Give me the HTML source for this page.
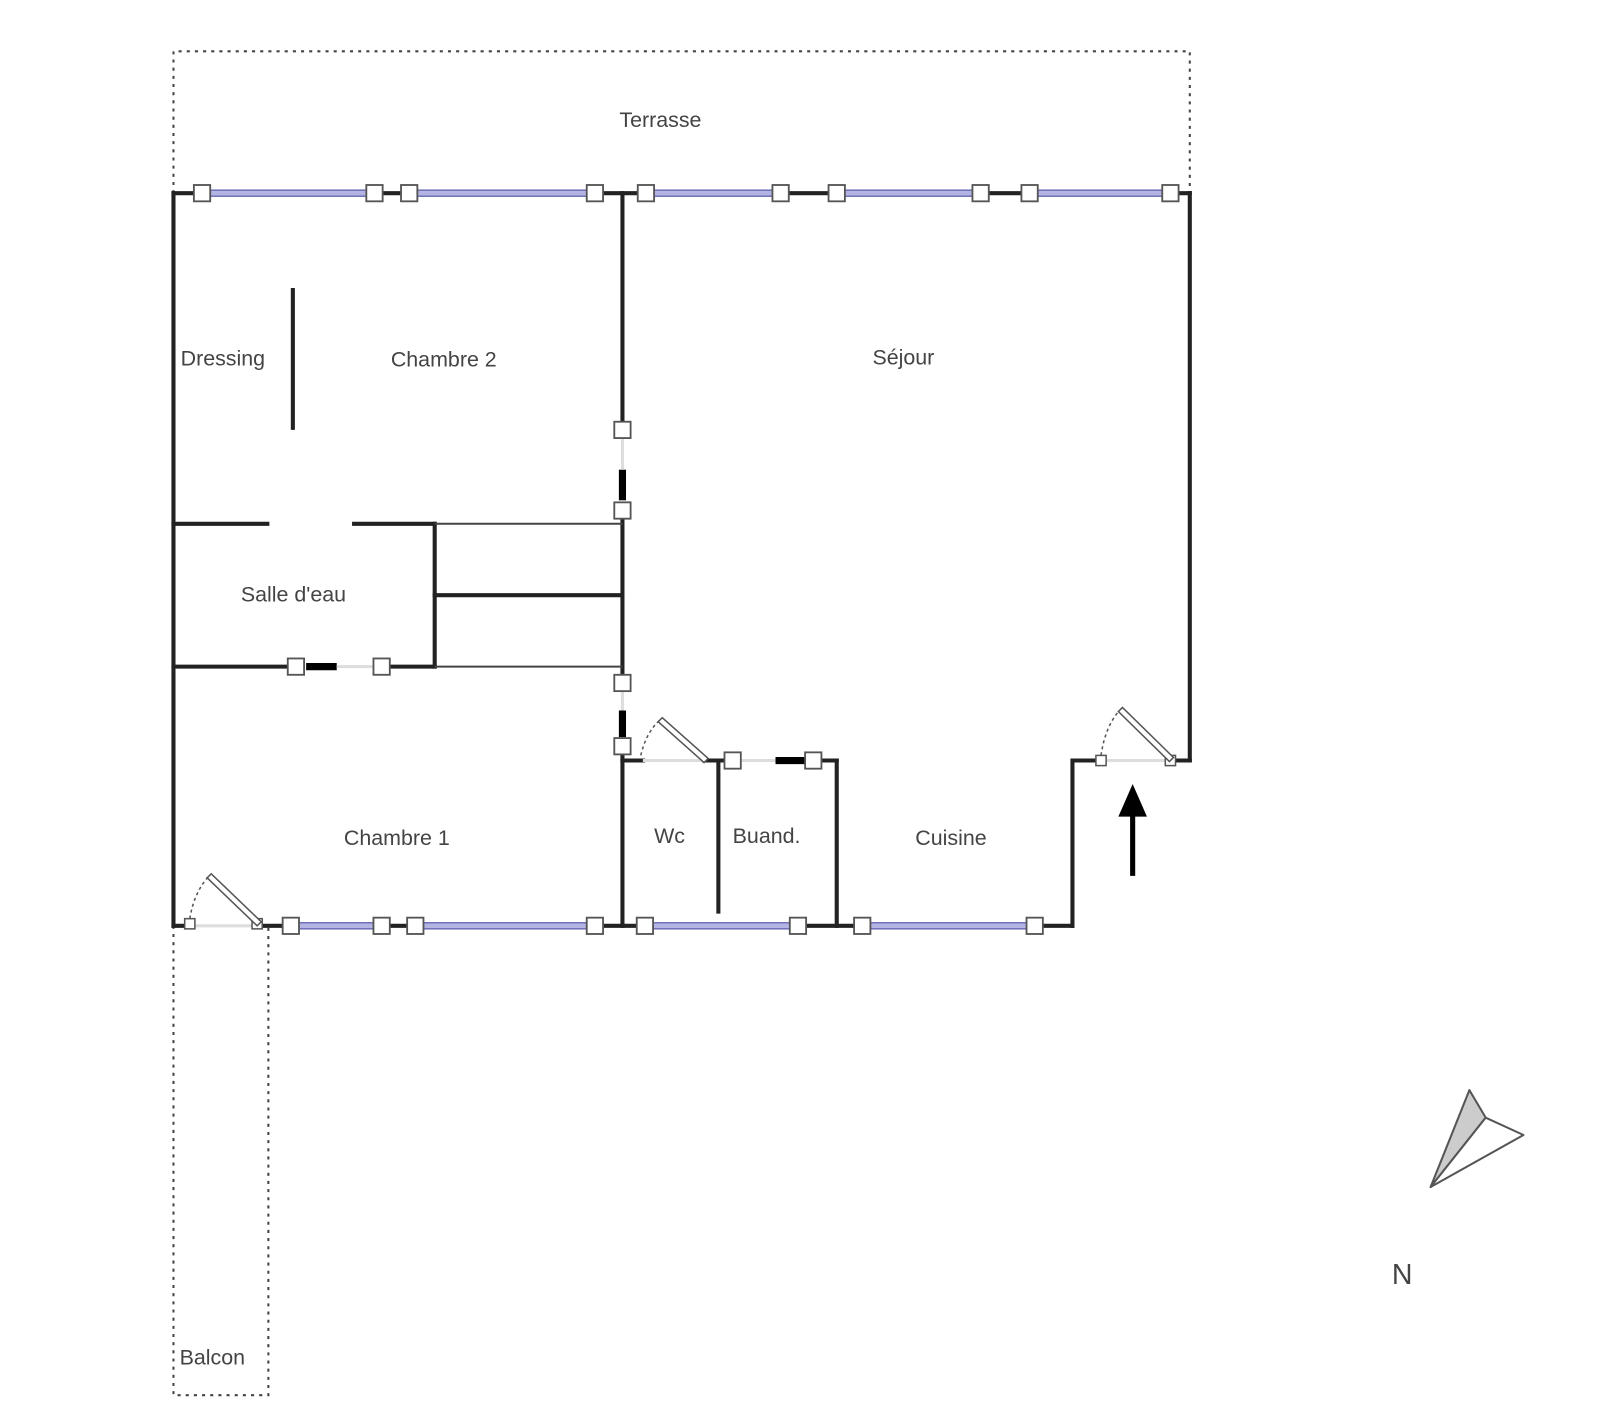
<!DOCTYPE html>
<html><head><meta charset="utf-8"><style>
html,body{margin:0;padding:0;background:#fff;width:1600px;height:1420px;overflow:hidden}
text{font-family:"Liberation Sans","DejaVu Sans",sans-serif;fill:#444;font-size:21px}
</style></head><body>
<svg width="1600" height="1420" viewBox="0 0 1568 1391" xmlns="http://www.w3.org/2000/svg">
<defs>
<g id="sq"><rect x="-8" y="-8" width="16" height="16" fill="#fff" stroke="#555" stroke-width="1.8"/></g>
<g id="ss"><rect x="-5" y="-5" width="10" height="10" fill="#fff" stroke="#555" stroke-width="1.5"/></g>
</defs>
<g fill="none" stroke="#444" stroke-width="2" stroke-dasharray="3,5">
<polyline points="170,189 170,50 1166,50 1166,189"/>
<polyline points="170,907 170,1367 263,1367 263,907"/>
</g>
<g stroke="#222" stroke-width="4" fill="none" stroke-linecap="square">
<line x1="170" y1="189" x2="1166" y2="189"/>
<line x1="170" y1="189" x2="170" y2="907"/>
<line x1="1166" y1="189" x2="1166" y2="745"/>
<line x1="1147" y1="745" x2="1166" y2="745"/>
<polyline points="1079,745 1051,745 1051,907"/>
<line x1="252" y1="907" x2="1051" y2="907"/>
<line x1="170" y1="907" x2="186" y2="907"/>
<line x1="610" y1="189" x2="610" y2="421"/>
<line x1="610" y1="500" x2="610" y2="669"/>
<line x1="610" y1="731" x2="610" y2="907"/>
<line x1="287" y1="284" x2="287" y2="419"/>
<line x1="170" y1="513" x2="262" y2="513"/>
<line x1="347" y1="513" x2="426" y2="513"/>
<line x1="426" y1="513" x2="426" y2="653"/>
<line x1="170" y1="653" x2="290" y2="653"/>
<line x1="374" y1="653" x2="426" y2="653"/>
<line x1="426" y1="583" x2="610" y2="583"/>
<line x1="610" y1="745" x2="630" y2="745"/>
<line x1="690" y1="745" x2="718" y2="745"/>
<line x1="797" y1="745" x2="820" y2="745"/>
<line x1="820" y1="745" x2="820" y2="907"/>
<line x1="704" y1="745" x2="704" y2="893"/>
</g>
<g stroke="#444" stroke-width="2">
<line x1="426" y1="513" x2="610" y2="513"/>
<line x1="426" y1="653" x2="610" y2="653"/>
</g>
<g stroke="#000" stroke-width="7">
<line x1="610" y1="460" x2="610" y2="490"/>
<line x1="610" y1="696" x2="610" y2="722"/>
<line x1="300" y1="653" x2="330" y2="653"/>
<line x1="760" y1="745" x2="790" y2="745"/>
</g>
<g stroke="#ddd" stroke-width="3">
<line x1="610" y1="430" x2="610" y2="460"/>
<line x1="610" y1="678" x2="610" y2="696"/>
<line x1="330" y1="653" x2="366" y2="653"/>
<line x1="726" y1="745" x2="760" y2="745"/>
<line x1="630" y1="745" x2="690" y2="745"/>
<line x1="1084" y1="745" x2="1142" y2="745"/>
<line x1="191" y1="907" x2="247" y2="907"/>
</g>
<g fill="#b4b4e4" stroke="#5a5aaa" stroke-width="1.2">
<rect x="198" y="186" width="169" height="6"/>
<rect x="401" y="186" width="182" height="6"/>
<rect x="633" y="186" width="132" height="6"/>
<rect x="820" y="186" width="141" height="6"/>
<rect x="1009" y="186" width="138" height="6"/>
<rect x="285" y="904" width="89" height="6"/>
<rect x="407" y="904" width="176" height="6"/>
<rect x="632" y="904" width="150" height="6"/>
<rect x="845" y="904" width="169" height="6"/>
</g>
<g>
<use href="#sq" x="198" y="189"/><use href="#sq" x="367" y="189"/><use href="#sq" x="401" y="189"/><use href="#sq" x="583" y="189"/>
<use href="#sq" x="633" y="189"/><use href="#sq" x="765" y="189"/><use href="#sq" x="820" y="189"/><use href="#sq" x="961" y="189"/>
<use href="#sq" x="1009" y="189"/><use href="#sq" x="1147" y="189"/>
<use href="#sq" x="285" y="907"/><use href="#sq" x="374" y="907"/><use href="#sq" x="407" y="907"/><use href="#sq" x="583" y="907"/>
<use href="#sq" x="632" y="907"/><use href="#sq" x="782" y="907"/><use href="#sq" x="845" y="907"/><use href="#sq" x="1014" y="907"/>
<use href="#sq" x="610" y="421"/><use href="#sq" x="610" y="500"/><use href="#sq" x="610" y="669"/><use href="#sq" x="610" y="731"/>
<use href="#sq" x="290" y="653"/><use href="#sq" x="374" y="653"/>
<use href="#sq" x="718" y="745"/><use href="#sq" x="797" y="745"/>
<use href="#ss" x="1079" y="745"/><use href="#ss" x="1147" y="745"/>
<use href="#ss" x="186" y="905"/><use href="#ss" x="252" y="905"/>
</g>
<g fill="#fff" stroke="#555" stroke-width="1.5">
<polygon points="1096,697 1100,693 1150,742 1146,746"/>
<polygon points="645,707 649,703 694,743 690,747"/>
<polygon points="203,860 207,856 256,903 252,907"/>
</g>
<g fill="none" stroke="#555" stroke-width="1.5" stroke-dasharray="3,3">
<path d="M1079,740 Q1083,712 1097,696"/>
<path d="M628,740 Q633,718 646,706"/>
<path d="M186,900 Q190,875 204,859"/>
</g>
<line x1="1110" y1="858" x2="1110" y2="795" stroke="#000" stroke-width="5"/>
<polygon points="1110,768 1096,800 1124,800" fill="#000"/>
<polygon points="1440,1068 1456,1095 1402,1163" fill="#ccc" stroke="#555" stroke-width="2" stroke-linejoin="round"/>
<polygon points="1456,1095 1493,1112 1402,1163" fill="#fff" stroke="#555" stroke-width="2" stroke-linejoin="round"/>
<text x="1364" y="1258" style="font-size:28px">N</text>
<text x="607" y="124">Terrasse</text>
<text x="177" y="358">Dressing</text>
<text x="383" y="359">Chambre 2</text>
<text x="855" y="357">Séjour</text>
<text x="236" y="589">Salle d'eau</text>
<text x="337" y="828">Chambre 1</text>
<text x="641" y="826">Wc</text>
<text x="718" y="826">Buand.</text>
<text x="897" y="828">Cuisine</text>
<text x="176" y="1337">Balcon</text>
</svg>
</body></html>
